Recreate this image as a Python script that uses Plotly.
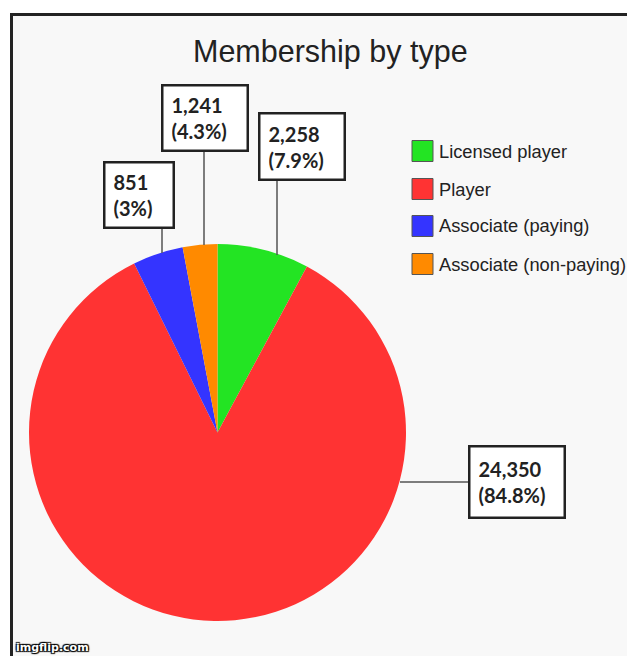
import plotly.graph_objects as go

W, H = 627, 656

# ---- data ----
labels = ["Licensed player", "Player", "Associate (paying)", "Associate (non-paying)"]
values = [2258, 24350, 1241, 851]
colors = ["#23E423", "#FF3333", "#3434FF", "#FF8A00"]
title_text = "Membership by type"

total = sum(values)


def pct(v):
    s = f"{v / total * 100:.1f}"
    if s.endswith(".0"):
        s = s[:-2]
    return s + "%"


def px(x):
    return x / W


def py(y):
    return 1 - y / H


fig = go.Figure()
fig.add_trace(go.Pie(
    labels=labels,
    values=values,
    marker=dict(colors=colors, line=dict(width=0)),
    sort=False,
    direction="clockwise",
    rotation=0,
    textinfo="none",
    hoverinfo="label+value+percent",
    showlegend=False,
    domain=dict(x=[px(29), px(406)], y=[py(621), py(244)]),
))

shapes = []
annotations = []

# frame (left/top border visible; right/bottom cropped)
shapes.append(dict(type="rect", xref="paper", yref="paper",
                   x0=px(11.5), x1=px(W + 20), y0=py(H + 20), y1=py(14.5),
                   fillcolor="#F8F8F8", line=dict(color="#232323", width=3),
                   layer="below"))

# title
annotations.append(dict(text=title_text, x=px(330), y=py(51), xref="paper", yref="paper",
                        showarrow=False, xanchor="center", yanchor="middle",
                        font=dict(family="Liberation Sans, Arial", size=30.5, color="#222222")))

# manual legend
leg_y = [151, 189, 226, 264]
for lab, col, yy in zip(labels, colors, leg_y):
    shapes.append(dict(type="rect", xref="paper", yref="paper",
                       x0=px(412), x1=px(433), y0=py(yy + 10.5), y1=py(yy - 10.5),
                       fillcolor=col, line=dict(color="#555555", width=1)))
    annotations.append(dict(text=lab, x=px(437), y=py(yy), xref="paper", yref="paper",
                            showarrow=False, xanchor="left", yanchor="middle",
                            font=dict(family="Liberation Sans, Arial", size=18.3, color="#222222")))

# data label boxes: (value index, left, top, width, height)
boxes = [
    (0, 258, 112, 86, 67),
    (1, 468, 445, 96, 72),
    (2, 161, 84, 86, 66),
    (3, 103, 161, 70, 66),
]
for idx, x0, y0, w, h in boxes:
    v = values[idx]
    txt = f"<b>{v:,}</b><br><b>({pct(v)})</b>"
    annotations.append(dict(text=txt, x=px(x0), y=py(y0), xref="paper", yref="paper",
                            showarrow=False, xanchor="left", yanchor="top",
                            align="left", valign="middle",
                            width=w - 2 * 8 - 3, height=h - 2 * 8 - 3,
                            borderpad=8, borderwidth=2.5, bordercolor="#222222",
                            bgcolor="#FFFFFF",
                            font=dict(family="Lato, Open Sans", size=20, color="#222222")))

# leader lines
leaders = [
    (277, 179, 277, 255),
    (468, 482, 400, 482),
    (204, 150, 204, 245),
    (162, 227, 162, 253),
]
for x0, y0, x1, y1 in leaders:
    shapes.append(dict(type="line", xref="paper", yref="paper",
                       x0=px(x0), y0=py(y0), x1=px(x1), y1=py(y1),
                       line=dict(color="#555555", width=1.5)))

# watermark
annotations.append(dict(text="<b>imgflip.com</b>", x=px(14), y=py(656), xref="paper", yref="paper",
                        showarrow=False, xanchor="left", yanchor="bottom",
                        font=dict(family="DejaVu Sans", size=11, color="#FFFFFF",
                                  shadow="1px 1px 1px #000, -1px -1px 1px #000, 1px -1px 1px #000, -1px 1px 1px #000")))

fig.update_layout(
    width=W, height=H,
    margin=dict(l=0, r=0, t=0, b=0),
    paper_bgcolor="#FFFFFF",
    plot_bgcolor="#FFFFFF",
    shapes=shapes,
    annotations=annotations,
    showlegend=False,
)

fig.write_html("out.html",
               config={"displayModeBar": False},
               post_script="document.body.style.margin='0';document.body.style.overflow='hidden';")
